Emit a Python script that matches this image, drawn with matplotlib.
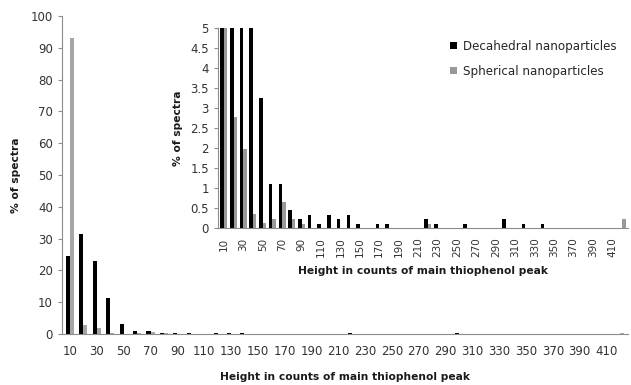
import matplotlib
matplotlib.use("Agg")
import matplotlib.pyplot as plt
import numpy as np

plt.rcParams['font.family'] = ['DejaVu Sans']

categories = list(range(10, 430, 10))
decahedral = [24.5, 31.6, 23.1, 11.4, 3.25, 1.1, 1.1, 0.45, 0.22, 0.33,
              0.11, 0.33, 0.22, 0.33, 0.11, 0, 0.11, 0.11, 0, 0,
              0, 0.22, 0.11, 0, 0, 0.11, 0, 0, 0, 0.22,
              0, 0.11, 0, 0.11, 0, 0, 0, 0, 0, 0,
              0, 0]
spherical = [93.1, 2.78, 1.98, 0.35, 0.12, 0.22, 0.65, 0.22, 0.11, 0,
             0, 0, 0, 0, 0, 0, 0, 0, 0, 0,
             0, 0.11, 0, 0, 0, 0, 0, 0, 0, 0,
             0, 0, 0, 0, 0, 0, 0, 0, 0, 0,
             0, 0.22]
labels = [str(c) if i % 2 == 0 else "" for i, c in enumerate(categories)]

BLACK = "#000000"
GRAY = "#a6a6a6"
TXT = "#333333"
AX = "#8c8c8c"

fig = plt.figure(figsize=(6.31, 3.85), dpi=100)
x = np.arange(len(categories))

def style(ax):
    for s in ["top", "right"]:
        ax.spines[s].set_visible(False)
    for s in ["left", "bottom"]:
        ax.spines[s].set_color(AX)
    ax.tick_params(axis="y", colors=AX, labelcolor=TXT, length=3, direction="out")
    ax.tick_params(axis="x", length=0, labelcolor=TXT)

# main axes
ax = fig.add_axes([62/631, 1-334/385, (628-62)/631, (334-16)/385])
w = 0.3
ax.bar(x - w/2, decahedral, width=w, color=BLACK)
ax.bar(x + w/2, spherical, width=w, color=GRAY)
ax.set_xlim(-0.6, len(x) - 0.4)
ax.set_ylim(0, 100)
ax.set_yticks(range(0, 101, 10))
ax.set_xticks(x)
ax.set_xticklabels(labels, fontsize=8.5)
ax.tick_params(axis="y", labelsize=8.5)
style(ax)
ax.tick_params(axis="x", pad=8)
ax.set_xlabel("Height in counts of main thiophenol peak", fontsize=7.7, fontweight="bold", color="#1a1a1a", labelpad=10)
ax.set_ylabel("% of spectra", fontsize=7.7, fontweight="bold", color="#1a1a1a", labelpad=7)

# inset
ins = fig.add_axes([218/631, 1-228/385, (628-218)/631, (228-28)/385])
ins.set_facecolor("white")
w2 = 0.36
ins.bar(x - w2/2, decahedral, width=w2, color=BLACK, label="Decahedral nanoparticles")
ins.bar(x + w2/2, spherical, width=w2, color="#999999", label="Spherical nanoparticles")
ins.set_xlim(-0.6, len(x) - 0.4)
ins.set_ylim(0, 5)
ins.set_yticks(np.arange(0, 5.01, 0.5))
ins.set_yticklabels(["0", "0.5", "1", "1.5", "2", "2.5", "3", "3.5", "4", "4.5", "5"], fontsize=8.5)
ins.set_xticks(x)
ins.set_xticklabels(labels, fontsize=7.5, rotation=90)
style(ins)
ins.tick_params(axis="x", pad=7)
ins.set_xlabel("Height in counts of main thiophenol peak", fontsize=7.7, fontweight="bold", color="#1a1a1a", labelpad=6)
ins.set_ylabel("% of spectra", fontsize=7.7, fontweight="bold", color="#1a1a1a", labelpad=5)
leg = ins.legend(loc="upper left", bbox_to_anchor=(445/631, 1-35/385), bbox_transform=fig.transFigure,
                 frameon=False, fontsize=8.6, handlelength=0.6, handleheight=0.6, handletextpad=0.5,
                 labelspacing=1.0, borderaxespad=0)
for t in leg.get_texts():
    t.set_color("#262626")

fig.savefig("out.png", dpi=100)
